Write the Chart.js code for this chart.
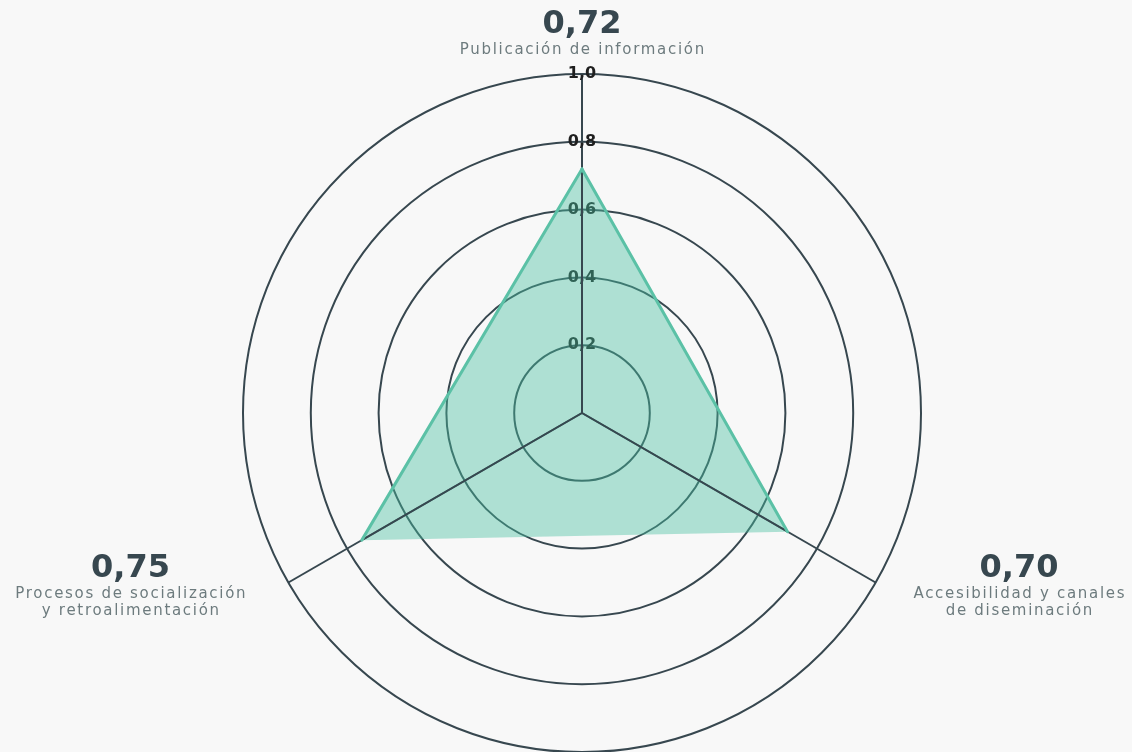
<!DOCTYPE html>
<html lang="es">
<head>
<meta charset="utf-8">
<title>Índice radar</title>
<script src="https://cdn.jsdelivr.net/npm/chart.js@4.4.1/dist/chart.umd.min.js"></script>
<style>
    html, body { margin: 0; padding: 0; background: #f8f8f8; overflow: hidden; }
    /* a bit taller than the window: the outer ring touches the bottom edge */
    .wrap { width: 1132px; height: 762px; position: relative; }
</style>
</head>
<body>
<div class="wrap"><canvas id="chart-radar"></canvas></div>
<script>
// Data
const categories = [
    ['Publicación de información'],
    ['Accesibilidad y canales', 'de diseminación'],
    ['Procesos de socialización', 'y retroalimentación'],
];
const scores = [0.72, 0.70, 0.75];
const tickValues = [0.2, 0.4, 0.6, 0.8, 1.0];
// outlined edges (point index pairs); the bottom one stays without outline
const outlineEdges = [[2, 0], [0, 1]];

const SLATE = '#37474f';
const SUB = '#6d7b7e';
const TEAL = '#5bc1a6';

function fmtComma(n, d = 1) {
    return Number(n).toFixed(d).replace('.', ',');
}

// angle lines again inside the area (they sit over the fill), then the outline
const overFill = {
    id: 'overFill',
    afterDatasetsDraw(chart) {
        const scale = chart.scales.r;
        const pts = chart.getDatasetMeta(0).data;
        const ctx = chart.ctx;

        ctx.save();
        ctx.beginPath();
        pts.forEach((p, i) => i ? ctx.lineTo(p.x, p.y) : ctx.moveTo(p.x, p.y));
        ctx.closePath();
        ctx.clip();
        ctx.strokeStyle = SLATE;
        ctx.lineWidth = 2;
        categories.forEach((c, i) => {
            const p = scale.getPointPosition(i, scale.drawingArea);
            ctx.beginPath();
            ctx.moveTo(scale.xCenter, scale.yCenter);
            ctx.lineTo(p.x, p.y);
            ctx.stroke();
        });
        ctx.restore();

        ctx.save();
        ctx.lineCap = 'round';
        ctx.strokeStyle = TEAL;
        ctx.lineWidth = 3;
        outlineEdges.forEach(([a, b]) => {
            ctx.beginPath();
            ctx.moveTo(pts[a].x, pts[a].y);
            ctx.lineTo(pts[b].x, pts[b].y);
            ctx.stroke();
        });
        ctx.restore();
    }
};

// big value + small spaced caption at each axis
const axisCaptions = {
    id: 'axisCaptions',
    afterDraw(chart) {
        const scale = chart.scales.r;
        const ctx = chart.ctx;
        const valueFont = 'bold 32px "DejaVu Sans"';
        const subFont = '15px "DejaVu Sans"';
        ctx.save();
        ctx.textBaseline = 'alphabetic';
        ctx.textAlign = 'center';
        categories.forEach((lines, i) => {
            const v = scale.getPointPosition(i, scale.drawingArea);
            const valueText = fmtComma(scores[i], 2);

            ctx.font = valueFont;
            ctx.letterSpacing = '0px';
            let w = ctx.measureText(valueText).width;
            ctx.font = subFont;
            ctx.letterSpacing = '1.7px';
            lines.forEach(l => { w = Math.max(w, ctx.measureText(l).width); });

            let cx, base;
            if (Math.abs(v.x - scale.xCenter) < 2) {
                cx = v.x;
                base = v.y - 41 - 17 * (lines.length - 1);
            } else if (v.x > scale.xCenter) {
                cx = v.x + 37 + w / 2;
                base = v.y - 6;
            } else {
                cx = v.x - 42 - w / 2;
                base = v.y - 6;
            }

            ctx.font = valueFont;
            ctx.letterSpacing = '0px';
            ctx.fillStyle = SLATE;
            ctx.fillText(valueText, cx, base);

            ctx.font = subFont;
            ctx.letterSpacing = '1.7px';
            ctx.fillStyle = SUB;
            lines.forEach((l, j) => ctx.fillText(l, cx + 0.85, base + 21 + 17 * j));
        });
        ctx.restore();
    }
};

new Chart(document.getElementById('chart-radar'), {
    type: 'radar',
    data: {
        labels: categories,
        datasets: [{
            label: 'Índice',
            data: scores,
            backgroundColor: 'rgba(72,190,160,0.42)',
            borderWidth: 0,
            pointRadius: 0,
            pointHoverRadius: 0,
        }]
    },
    options: {
        responsive: true,
        maintainAspectRatio: false,
        animation: false,
        layout: { padding: { top: 64, bottom: 0, left: 32, right: 0 } },
        plugins: { legend: { display: false }, tooltip: { enabled: false } },
        scales: {
            r: {
                min: 0,
                max: 1,
                afterBuildTicks: s => { s.ticks = [0, ...tickValues].map(v => ({ value: v })); },
                grid: { circular: true, color: SLATE, lineWidth: 2 },
                angleLines: { color: SLATE, lineWidth: 2 },
                pointLabels: { display: false },
                ticks: {
                    showLabelBackdrop: false,
                    color: '#1f1f1f',
                    font: { family: '"DejaVu Sans"', size: 16, weight: 'bold' },
                    callback: v => fmtComma(v),
                },
            }
        }
    },
    plugins: [overFill, axisCaptions]
});
</script>
</body>
</html>
